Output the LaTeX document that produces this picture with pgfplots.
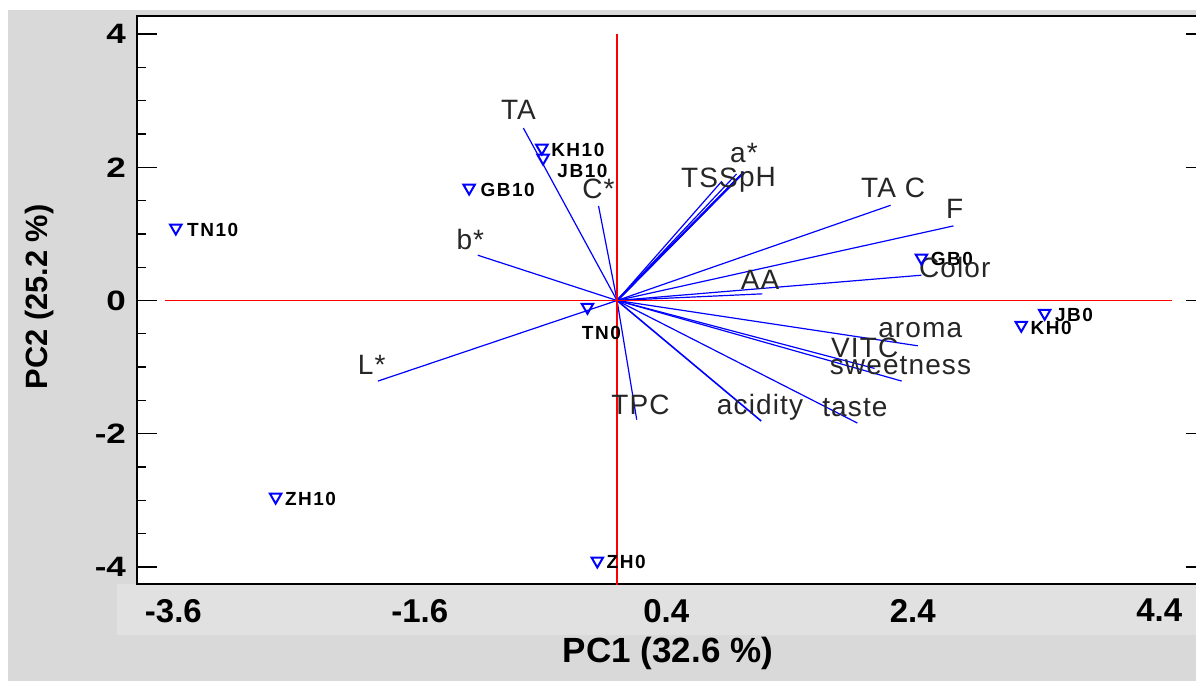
\documentclass[border=0pt]{standalone}
\usepackage{fontspec}
\setmainfont{Liberation Sans}
\newfontfamily\varfont[LetterSpace=4]{Liberation Sans}
\newfontfamily\ptfont[LetterSpace=8]{Liberation Sans}
\newfontfamily\yfont[FakeStretch=1.25]{Liberation Sans}
\newfontfamily\xfont{Liberation Sans}
\usepackage{pgfplots}
\pgfplotsset{compat=1.18}
\definecolor{bgray}{HTML}{D9D9D9}
\definecolor{lgray}{HTML}{E1E1E1}
\definecolor{vblue}{RGB}{0,0,255}
\definecolor{refred}{RGB}{255,0,0}
\begin{document}
\begin{tikzpicture}
\begin{scope}[x=0.5pt,y=0.5pt]
\fill[white] (0,0) rectangle (1196,681);
\fill[bgray] (8,0) rectangle (1196,671);
\fill[lgray] (117,46) rectangle (1196,97);
\end{scope}
\begin{axis}[
  at={(68.5pt,48.5pt)}, anchor=south west,
  scale only axis, width=534.5pt, height=284pt,
  xmin=-3.895, xmax=4.779, ymin=-4.257, ymax=4.272,
  axis background/.style={fill=white},
  axis line style={black, line width=1pt},
  xtick={-3.6,-1.6,0.4,2.4,4.4},
  xticklabels={-3.6,-1.6,0.4,2.4,4.4},
  x tick style={draw=none},
  ytick={-4,-2,0,2,4},
  yticklabels={-4,-2,0,2,4},
  minor y tick num=3,
  ytick pos=both, xtick pos=bottom,
  tick align=inside,
  major tick length=10pt, minor tick length=4.5pt,
  y tick style={black, line width=0.7pt},
  xticklabel style={font=\xfont\bfseries\fontsize{16.5}{19}\selectfont, yshift=-4pt},
  yticklabel style={font=\yfont\bfseries\fontsize{14}{16}\selectfont, xshift=-2pt},
  clip=true,
]
% variable vectors
\addplot[vblue, line width=0.6pt] coordinates {(0,0) (-0.76,2.59)};
\addplot[vblue, line width=0.6pt] coordinates {(0,0) (-0.15,1.42)};
\addplot[vblue, line width=0.6pt] coordinates {(0,0) (-1.13,0.68)};
\addplot[vblue, line width=0.6pt] coordinates {(0,0) (-1.94,-1.21)};
\addplot[vblue, line width=1pt] coordinates {(0,0) (1.03,1.93)};
\addplot[vblue, line width=1pt] coordinates {(0,0) (1.00,1.87)};
\addplot[vblue, line width=0.6pt] coordinates {(0,0) (0.97,1.90)};
\addplot[vblue, line width=0.6pt] coordinates {(0,0) (0.85,1.79)};
\addplot[vblue, line width=0.6pt] coordinates {(0,0) (2.22,1.43)};
\addplot[vblue, line width=0.6pt] coordinates {(0,0) (2.73,1.12)};
\addplot[vblue, line width=0.6pt] coordinates {(0,0) (2.47,0.38)};
\addplot[vblue, line width=0.6pt] coordinates {(0,0) (1.18,0.10)};
\addplot[vblue, line width=0.6pt] coordinates {(0,0) (2.44,-0.68)};
\addplot[vblue, line width=0.6pt] coordinates {(0,0) (2.09,-1.02)};
\addplot[vblue, line width=0.6pt] coordinates {(0,0) (2.31,-1.21)};
\addplot[vblue, line width=0.6pt] coordinates {(0,0) (1.95,-1.84)};
\addplot[vblue, line width=0.8pt] coordinates {(0,0) (1.17,-1.81)};
\addplot[vblue, line width=0.6pt] coordinates {(0,0) (0.16,-1.79)};
% red reference lines
\addplot[draw=refred, line width=0.9pt] coordinates {(-3.67,0) (4.50,0)};
\addplot[draw=refred, line width=0.9pt] coordinates {(0,4) (0,-4.4)};
% sample scores
\addplot[only marks, mark=triangle, mark size=3.3pt,
  mark options={rotate=180, draw=vblue, fill=none, line width=1pt}] coordinates {
  (-3.58,1.09) (-1.20,1.69) (-0.61,2.29) (-0.60,2.14) (-0.24,-0.10)
  (-0.16,-3.91) (-2.77,-2.95) (2.47,0.64) (3.47,-0.19) (3.28,-0.37)};
% sample labels
\begin{scope}[every node/.style={font=\ptfont\bfseries\fontsize{9.5}{11}\selectfont, anchor=west, inner sep=0pt}]
\node[xshift=5.5pt,yshift=-1pt] at (axis cs:-3.58,1.09) {TN10};
\node[xshift=5.5pt,yshift=-1pt] at (axis cs:-1.20,1.69) {GB10};
\node[xshift=4.5pt,yshift=-1pt] at (axis cs:-0.61,2.29) {KH10};
\node[xshift=7pt,yshift=-6.5pt] at (axis cs:-0.60,2.14) {JB10};
\node[anchor=center,xshift=7pt,yshift=-13pt] at (axis cs:-0.24,-0.10) {TN0};
\node[xshift=4.5pt,yshift=-0.5pt] at (axis cs:-0.16,-3.91) {ZH0};
\node[xshift=4.5pt,yshift=-1pt] at (axis cs:-2.77,-2.95) {ZH10};
\node[xshift=4.5pt,yshift=-0.5pt] at (axis cs:2.47,0.64) {GB0};
\node[xshift=5pt,yshift=-1pt] at (axis cs:3.47,-0.19) {JB0};
\node[xshift=4.5pt,yshift=-1.5pt] at (axis cs:3.28,-0.37) {KH0};
\end{scope}
% variable labels
\begin{scope}[every node/.style={font=\varfont\fontsize{14}{16}\selectfont, text=black!85, inner sep=0pt}]
\node at (axis cs:-0.80,2.86) {TA};
\node at (axis cs:-0.15,1.67) {C*};
\node at (axis cs:-1.19,0.91) {b*};
\node at (axis cs:-1.99,-0.97) {L*};
\node at (axis cs:1.03,2.21) {a*};
\node at (axis cs:0.75,1.84) {TSS};
\node at (axis cs:1.14,1.81) {pH};
\node at (axis cs:2.24,1.69) {TA C};
\node at (axis cs:2.74,1.37) {F};
\node at (axis cs:2.74,0.50) {Color};
\node at (axis cs:1.16,0.31) {AA};
\node at (axis cs:2.46,-0.44) {aroma};
\node at (axis cs:2.01,-0.71) {VITC};
\node at (axis cs:2.30,-0.97) {sweetness};
\node at (axis cs:1.93,-1.61) {taste};
\node at (axis cs:1.16,-1.60) {acidity};
\node at (axis cs:0.19,-1.57) {TPC};
\end{scope}
\end{axis}
\begin{scope}[x=0.5pt,y=0.5pt]
\node[font=\xfont\bfseries\fontsize{17.5}{20}\selectfont] at (668,28) {PC1 (32.6 \%)};
\node[rotate=90, font=\xfont\bfseries\fontsize{15.4}{18}\selectfont] at (40,384) {PC2 (25.2 \%)};
\pgfresetboundingbox
\useasboundingbox (0,0) rectangle (1196,681);
\end{scope}
\end{tikzpicture}
\end{document}
